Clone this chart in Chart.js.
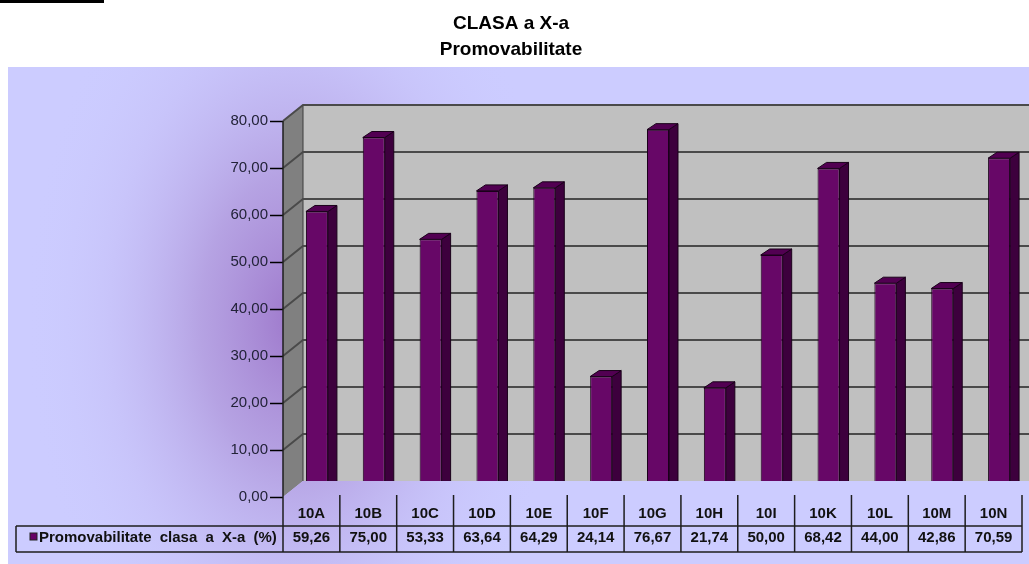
<!DOCTYPE html>
<html>
<head>
<meta charset="utf-8">
<script src="https://cdn.jsdelivr.net/npm/chart.js@4.4.1/dist/chart.umd.min.js"></script>
<style>
  html, body { margin: 0; padding: 0; background: #fff; }
  #wrap { width: 1029px; height: 564px; }
</style>
</head>
<body>
<div id="wrap"><canvas id="chart"></canvas></div>
<script>
const classes = ['10A', '10B', '10C', '10D', '10E', '10F', '10G', '10H', '10I', '10K', '10L', '10M', '10N'];
const passRates = [59.26, 75.00, 53.33, 63.64, 64.29, 24.14, 76.67, 21.74, 50.00, 68.42, 44.00, 42.86, 70.59];
const seriesName = 'Promovabilitate clasa a X-a (%)';
const titleLines = ['CLASA a X-a', 'Promovabilitate'];
const yMin = 0, yMax = 80, yStep = 10;

const fmt = v => v.toFixed(2).replace('.', ',');
const FONT = "'Liberation Sans', Arial, sans-serif";

// fake 3d offsets
const WALL_DX = 20, WALL_DY = -16;
const BAR_DX = 9, BAR_DY = -6;
const BAR_SHIFT_X = 5.5, BAR_SHIFT_Y = -7;

function paintBackground(ctx, w, h) {
    ctx.save();
    ctx.beginPath();
    ctx.rect(8, 67, w - 8, h - 67);
    ctx.clip();
    ctx.fillStyle = '#ccccff';
    ctx.fillRect(8, 67, w - 8, h - 67);
    // purple glow behind the left wall
    ctx.translate(295, 320);
    ctx.scale(1, 1.55);
    const g = ctx.createRadialGradient(0, 0, 0, 0, 0, 270);
    g.addColorStop(0, 'rgba(155,115,200,0.95)');
    g.addColorStop(0.35, 'rgba(172,145,215,0.7)');
    g.addColorStop(0.7, 'rgba(192,180,240,0.3)');
    g.addColorStop(1, 'rgba(204,204,255,0)');
    ctx.fillStyle = g;
    ctx.fillRect(-300, -300, 600, 600);
    ctx.restore();
}

const chart3d = {
    id: 'chart3d',
    beforeDraw(chart) {
        const ctx = chart.ctx;
        ctx.save();
        ctx.fillStyle = '#fff';
        ctx.fillRect(0, 0, chart.width, chart.height);
        ctx.fillStyle = '#000';
        ctx.fillRect(0, 0, 104, 3);
        ctx.restore();
        paintBackground(ctx, chart.width, chart.height);
    },
    beforeDatasetsDraw(chart) {
        const {ctx, chartArea: a, scales: {y}} = chart;
        const right = chart.width;
        const top = y.getPixelForValue(yMax), bottom = y.getPixelForValue(yMin);
        ctx.save();
        // left wall
        ctx.beginPath();
        ctx.moveTo(a.left, top);
        ctx.lineTo(a.left + WALL_DX, top + WALL_DY);
        ctx.lineTo(a.left + WALL_DX, bottom + WALL_DY);
        ctx.lineTo(a.left, bottom);
        ctx.closePath();
        ctx.fillStyle = '#808080';
        ctx.fill();
        // back wall
        ctx.fillStyle = '#c0c0c0';
        ctx.fillRect(a.left + WALL_DX, top + WALL_DY, right - a.left - WALL_DX, bottom - top);
        ctx.strokeStyle = '#3c3c3c';
        ctx.lineWidth = 1;
        ctx.beginPath();
        ctx.moveTo(a.left + WALL_DX, top + WALL_DY);
        ctx.lineTo(a.left + WALL_DX, bottom + WALL_DY);
        ctx.stroke();
        // gridlines
        ctx.strokeStyle = '#4a4a4a';
        ctx.lineWidth = 2;
        for (let v = yMin + yStep; v <= yMax; v += yStep) {
            const py = y.getPixelForValue(v);
            ctx.beginPath();
            ctx.moveTo(a.left, py);
            ctx.lineTo(a.left + WALL_DX, py + WALL_DY);
            ctx.lineTo(right, py + WALL_DY);
            ctx.stroke();
        }
        ctx.restore();
        // bars sit a bit deeper than the front axis
        ctx.save();
        ctx.translate(BAR_SHIFT_X, BAR_SHIFT_Y);
    },
    afterDatasetsDraw(chart) {
        const {ctx, chartArea: a, scales: {x, y}} = chart;
        ctx.lineWidth = 1;
        ctx.strokeStyle = '#1a001a';
        chart.getDatasetMeta(0).data.forEach(bar => {
            const p = bar.getProps(['x', 'y', 'base', 'width'], true);
            const l = p.x - p.width / 2, r = p.x + p.width / 2;
            // side
            ctx.beginPath();
            ctx.moveTo(r, p.y);
            ctx.lineTo(r + BAR_DX, p.y + BAR_DY);
            ctx.lineTo(r + BAR_DX, p.base + BAR_DY);
            ctx.lineTo(r, p.base);
            ctx.closePath();
            ctx.fillStyle = '#3d003d';
            ctx.fill();
            ctx.stroke();
            // top
            ctx.beginPath();
            ctx.moveTo(l, p.y);
            ctx.lineTo(l + BAR_DX, p.y + BAR_DY);
            ctx.lineTo(r + BAR_DX, p.y + BAR_DY);
            ctx.lineTo(r, p.y);
            ctx.closePath();
            ctx.fillStyle = '#520052';
            ctx.fill();
            ctx.stroke();
        });
        ctx.restore();

        const top = y.getPixelForValue(yMax), bottom = y.getPixelForValue(yMin);
        // floor hides the bar feet
        ctx.save();
        ctx.beginPath();
        ctx.moveTo(a.left, bottom);
        ctx.lineTo(a.left + WALL_DX, bottom + WALL_DY);
        ctx.lineTo(chart.width, bottom + WALL_DY);
        ctx.lineTo(chart.width, bottom);
        ctx.closePath();
        ctx.clip();
        paintBackground(ctx, chart.width, chart.height);
        ctx.restore();

        // data table
        const colW = x.getPixelForValue(1) - x.getPixelForValue(0);
        const boxTop = bottom + 29, boxBottom = bottom + 55;
        ctx.save();
        ctx.strokeStyle = '#1e1e1e';
        ctx.lineWidth = 1.5;
        ctx.beginPath();
        ctx.moveTo(a.left, top);
        ctx.lineTo(a.left, boxBottom);
        for (let i = 1; i <= classes.length; i++) {
            const sx = a.left + i * colW;
            ctx.moveTo(sx, bottom - 2);
            ctx.lineTo(sx, boxBottom);
        }
        ctx.moveTo(16, boxTop);
        ctx.lineTo(a.left + classes.length * colW, boxTop);
        ctx.moveTo(16, boxBottom);
        ctx.lineTo(a.left + classes.length * colW, boxBottom);
        ctx.moveTo(16, boxTop);
        ctx.lineTo(16, boxBottom);
        ctx.stroke();

        ctx.fillStyle = '#111';
        ctx.font = 'bold 15px ' + FONT;
        ctx.textAlign = 'center';
        ctx.textBaseline = 'middle';
        classes.forEach((c, i) => {
            const cx = x.getPixelForValue(i);
            ctx.fillText(c, cx, bottom + 17);
            ctx.fillText(fmt(passRates[i]), cx, boxTop + 12);
        });
        // legend key
        ctx.fillStyle = '#660066';
        ctx.fillRect(30, boxTop + 7, 7, 7);
        ctx.strokeStyle = '#222';
        ctx.lineWidth = 1;
        ctx.strokeRect(30, boxTop + 7, 7, 7);
        ctx.fillStyle = '#111';
        ctx.textAlign = 'left';
        ctx.wordSpacing = '4px';
        ctx.fillText(seriesName, 39, boxTop + 12);
        ctx.restore();
    }
};

new Chart(document.getElementById('chart'), {
    type: 'bar',
    data: {
        labels: classes,
        datasets: [{
            label: seriesName,
            data: passRates,
            backgroundColor: '#670767',
            borderColor: '#1a001a',
            borderWidth: 1,
            barPercentage: 0.387,
            categoryPercentage: 1
        }]
    },
    options: {
        responsive: true,
        maintainAspectRatio: false,
        animation: false,
        devicePixelRatio: 1,
        layout: { padding: { left: 0, right: 7, top: 0, bottom: 67 } },
        plugins: {
            legend: { display: false },
            tooltip: { enabled: false },
            title: {
                display: true,
                text: titleLines,
                color: '#000',
                font: { family: FONT, size: 19, weight: 'bold', lineHeight: 1.4 },
                padding: { top: 10, bottom: 57.8 }
            }
        },
        scales: {
            x: { display: false },
            y: {
                min: yMin,
                max: yMax,
                afterFit: s => { s.width = 283; },
                border: { display: false },
                grid: { drawOnChartArea: false, drawTicks: true, tickLength: 13, color: '#000', tickWidth: 1.5 },
                ticks: {
                    stepSize: yStep,
                    padding: 2,
                    color: '#222238',
                    font: { family: FONT, size: 15 },
                    callback: v => fmt(v)
                }
            }
        }
    },
    plugins: [chart3d]
});
</script>
</body>
</html>
